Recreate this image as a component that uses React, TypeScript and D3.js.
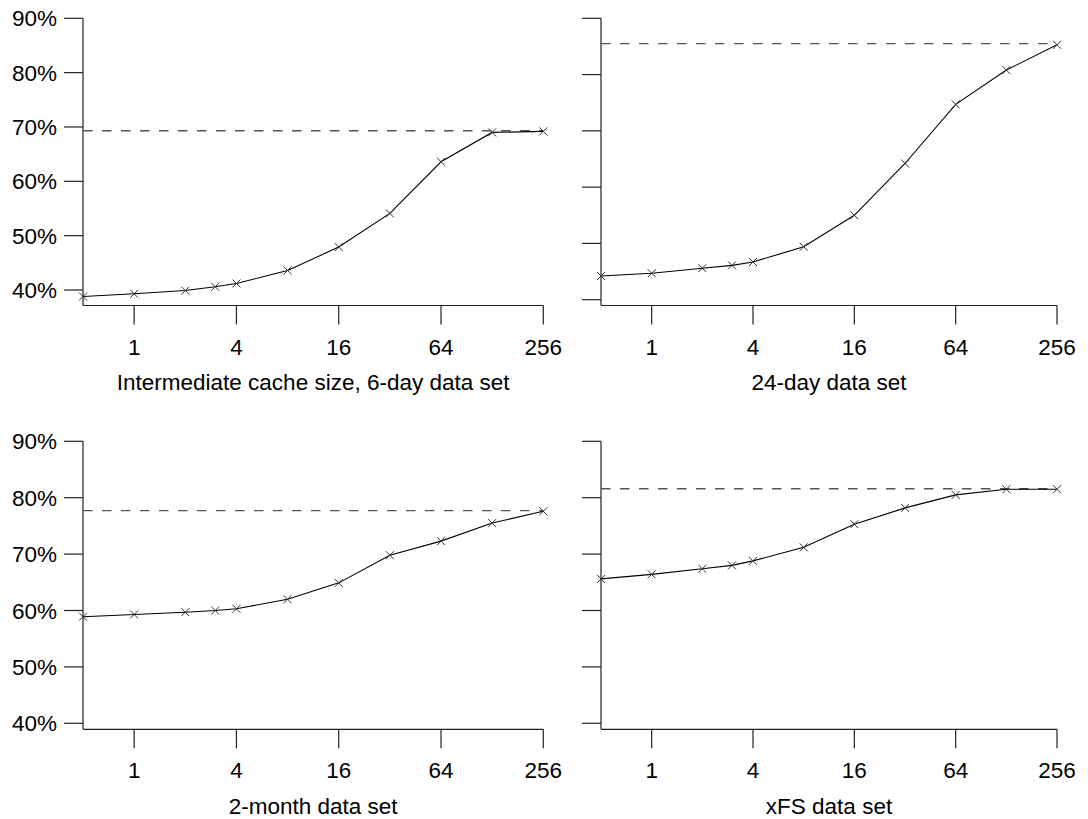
import React from 'react';
import * as d3 from 'd3';

// cache sizes on the x axis (log2)
const cacheSizes = [0.5, 1, 2, 3, 4, 8, 16, 32, 64, 128, 256];
const xTickValues = [1, 4, 16, 64, 256];
const yTickValues = [40, 50, 60, 70, 80, 90];

// hit rate (%) per data set
const sixDay = [38.8, 39.3, 39.9, 40.6, 41.2, 43.6, 47.9, 54.1, 63.6, 69.0, 69.2];
const twentyFourDay = [44.2, 44.7, 45.6, 46.1, 46.7, 49.4, 55.0, 64.2, 74.7, 80.8, 85.3];
const twoMonth = [58.9, 59.3, 59.7, 60.0, 60.3, 62.0, 64.9, 69.8, 72.3, 75.5, 77.6];
const xfs = [65.6, 66.4, 67.4, 68.0, 68.8, 71.2, 75.3, 78.2, 80.5, 81.5, 81.5];

// dashed upper bound per data set
const limits = [69.3, 85.5, 77.7, 81.6];

const titles = [
  'Intermediate cache size, 6-day data set',
  '24-day data set',
  '2-month data set',
  'xFS data set',
];

const series = [sixDay, twentyFourDay, twoMonth, xfs];

// panel layout: x extent, pixel for 90% / 40%, x axis position, labels on y?
const panels = [
  { x0: 83, x1: 543.3, yTop: 18.3, yLow: 290, axisY: 305.5, labels: true },
  { x0: 601, x1: 1057, yTop: 18.3, yLow: 299.7, axisY: 305.5, labels: false },
  { x0: 83, x1: 543.3, yTop: 441.3, yLow: 723.3, axisY: 729.3, labels: true },
  { x0: 601, x1: 1057, yTop: 441.3, yLow: 723.3, axisY: 729.3, labels: false },
];

const FONT = '"Liberation Sans", Arial, sans-serif';
const FS = 22.5;
const AXIS = '#222';

const Panel = ({ idx }: { idx: number }) => {
  const p = panels[idx];
  const values = series[idx];
  const x = d3.scaleLog().base(2).domain([0.5, 256]).range([p.x0, p.x1]);
  const y = d3.scaleLinear().domain([40, 90]).range([p.yLow, p.yTop]);
  const line = d3.line<number>()
    .x((_, i) => x(cacheSizes[i]))
    .y((d) => y(d));
  const m = 4;

  return (
    <g>
      {/* y axis */}
      <line x1={p.x0} x2={p.x0} y1={y(90)} y2={p.axisY} stroke={AXIS} strokeWidth={1.2} />
      {yTickValues.map((t) => (
        <g key={t}>
          <line x1={p.x0 - 19} x2={p.x0} y1={y(t)} y2={y(t)} stroke={AXIS} strokeWidth={1.2} />
          {p.labels && (
            <text x={p.x0 - 26} y={y(t)} dy="0.36em" textAnchor="end" fontSize={FS} fontFamily={FONT} fill="#000">
              {t}%
            </text>
          )}
        </g>
      ))}
      {/* x axis */}
      <line x1={p.x0} x2={p.x1} y1={p.axisY} y2={p.axisY} stroke={AXIS} strokeWidth={1.2} />
      {xTickValues.map((t) => (
        <g key={t}>
          <line x1={x(t)} x2={x(t)} y1={p.axisY} y2={p.axisY + 19} stroke={AXIS} strokeWidth={1.2} />
          <text x={x(t)} y={p.axisY + 49} textAnchor="middle" fontSize={FS} fontFamily={FONT} fill="#000">
            {t}
          </text>
        </g>
      ))}
      <text x={(p.x0 + p.x1) / 2} y={p.axisY + 84.5} textAnchor="middle" fontSize={FS} fontFamily={FONT} fill="#000">
        {titles[idx]}
      </text>
      {/* limit */}
      <line x1={p.x0} x2={p.x1} y1={y(limits[idx])} y2={y(limits[idx])} stroke="#555" strokeWidth={1.4} strokeDasharray="9.5,9.5" />
      {/* series */}
      <path d={line(values) || ''} fill="none" stroke="#000" strokeWidth={1.1} />
      {values.map((v, i) => {
        const cx = x(cacheSizes[i]);
        const cy = y(v);
        return (
          <path
            key={i}
            d={`M${cx - m},${cy - m}L${cx + m},${cy + m}M${cx - m},${cy + m}L${cx + m},${cy - m}`}
            stroke="#333"
            strokeWidth={1}
            fill="none"
          />
        );
      })}
    </g>
  );
};

export default function App() {
  return (
    <svg width={1088} height={819} style={{ position: 'absolute', left: 0, top: 0, background: '#fff' }}>
      <rect width={1088} height={819} fill="#fff" />
      {panels.map((_, i) => (
        <Panel key={i} idx={i} />
      ))}
    </svg>
  );
}
